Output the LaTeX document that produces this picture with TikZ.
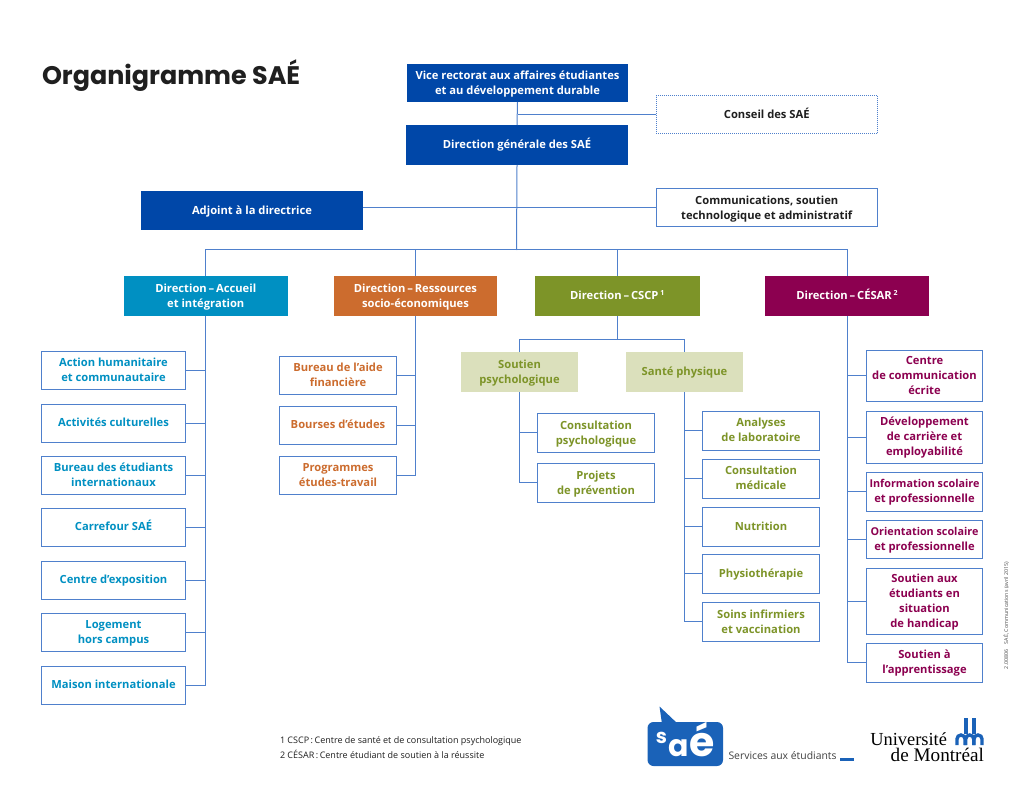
\documentclass[tikz,border=0pt]{standalone}
\usepackage{fontspec}
\setmainfont{Open Sans}
\newfontfamily\titlefont{Poppins}
\newfontfamily\logoserif{Liberation Serif}
\definecolor{navy}{HTML}{0047A8}
\definecolor{linkc}{HTML}{4F80CC}
\definecolor{cyanc}{HTML}{0090C2}
\definecolor{orangec}{HTML}{CC6C2E}
\definecolor{greenc}{HTML}{7D9428}
\definecolor{maroonc}{HTML}{8C0050}
\definecolor{paleg}{HTML}{DBE0BC}
\definecolor{inkc}{HTML}{1F1F1F}
\definecolor{logoc}{HTML}{1A62B8}
\tikzset{
  x=1pt,y=-1pt,
  boxbase/.style={rectangle,inner sep=0pt,outer sep=0pt,align=center,font=\fontsize{11.2}{15}\selectfont\bfseries},
  solidbox/.style={boxbase,fill=navy,text=white},
  whitebox/.style={boxbase,draw=linkc,line width=1pt,fill=white,text=inkc,xshift=-0.5pt},
  dotbox/.style={whitebox,densely dotted},
  dcyan/.style={boxbase,fill=cyanc,text=white},
  dorange/.style={boxbase,fill=orangec,text=white},
  dgreen/.style={boxbase,fill=greenc,text=white},
  dmaroon/.style={boxbase,fill=maroonc,text=white},
  palebox/.style={boxbase,fill=paleg,text=greenc},
  bcyan/.style={whitebox,text=cyanc},
  borange/.style={whitebox,text=orangec},
  bgreen/.style={whitebox,text=greenc},
  bmaroon/.style={whitebox,text=maroonc},
  link/.style={draw=linkc,line width=1pt},
  plain/.style={inner sep=0pt,outer sep=0pt},
}
\newcommand{\bx}[7]{\node[#6,minimum width={#4-#2},minimum height={#5-#3}] (#1) at ({(#2+#4)/2},{(#3+#5)/2}) {\rule{0pt}{11pt}#7\rule[-3.5pt]{0pt}{0pt}};}
\newcommand{\sups}[1]{\raisebox{0.35em}{\fontsize{7}{7}\selectfont #1}}
\begin{document}
\begin{tikzpicture}
\useasboundingbox (0,0) rectangle (1024,791);
\fill[white] (0,0) rectangle (1024,791);
\coordinate (J1) at (516.5,250);
\coordinate (cs1) at (519,339);
% boxes
\bx{vr}{407}{64}{628}{102}{solidbox}{Vice rectorat aux affaires étudiantes\\et au développement durable}
\bx{cons}{656.5}{96}{878}{134}{dotbox}{Conseil des SAÉ}
\bx{dg}{406}{125}{628}{165}{solidbox}{Direction générale des SAÉ}
\bx{adj}{141}{191}{363}{230}{solidbox}{Adjoint à la directrice}
\bx{comm}{656.5}{189}{878}{227}{whitebox}{Communications, soutien\\technologique et administratif}
\bx{d1}{124}{276}{287.5}{316}{dcyan}{Direction\,–\,Accueil\\et intégration}
\bx{d2}{334}{276}{497}{316}{dorange}{Direction\,–\,Ressources\\socio-économiques}
\bx{d3}{535}{276}{699.5}{316}{dgreen}{Direction\,–\,CSCP\,\sups{1}}
\bx{d4}{765}{276}{929}{316}{dmaroon}{Direction\,–\,CÉSAR\,\sups{2}}
% column 1
\bx{a1}{42}{351}{186}{389}{bcyan}{Action humanitaire\\et communautaire}
\bx{a2}{42}{404}{186}{442}{bcyan}{Activités culturelles}
\bx{a3}{42}{456}{186}{494}{bcyan}{Bureau des étudiants\\internationaux}
\bx{a4}{42}{508}{186}{546}{bcyan}{Carrefour SAÉ}
\bx{a5}{42}{561}{186}{599}{bcyan}{Centre d’exposition}
\bx{a6}{42}{613}{186}{651}{bcyan}{Logement\\hors campus}
\bx{a7}{42}{666}{186}{704}{bcyan}{Maison internationale}
% column 2
\bx{b1}{280}{356.5}{397}{394.5}{borange}{Bureau de l’aide\\financière}
\bx{b2}{280}{406}{397}{444}{borange}{Bourses d’études}
\bx{b3}{280}{456}{397}{494}{borange}{Programmes\\études-travail}
% CSCP
\bx{p1}{461}{352}{578}{392}{palebox}{Soutien\\psychologique}
\bx{p2}{626}{352}{743}{392}{palebox}{Santé physique}
\bx{c1}{538}{413.5}{655}{452}{bgreen}{Consultation\\psychologique}
\bx{c2}{538}{463.5}{655}{502}{bgreen}{Projets\\de prévention}
\bx{e1}{703}{411}{820}{450}{bgreen}{Analyses\\de laboratoire}
\bx{e2}{703}{459}{820}{498}{bgreen}{Consultation\\médicale}
\bx{e3}{703}{507}{820}{546}{bgreen}{Nutrition}
\bx{e4}{703}{554.5}{820}{593}{bgreen}{Physiothérapie}
\bx{e5}{703}{602.5}{820}{641}{bgreen}{Soins infirmiers\\et vaccination}
% CESAR
\bx{f1}{867}{350}{983}{401}{bmaroon}{Centre\\de communication\\écrite}
\bx{f2}{867}{411}{983}{463}{bmaroon}{Développement\\de carrière et\\employabilité}
\bx{f3}{867}{472}{983}{511}{bmaroon}{\fontsize{10.8}{15}\selectfont Information scolaire\\et professionnelle}
\bx{f4}{867}{520}{983}{558}{bmaroon}{\fontsize{10.8}{15}\selectfont Orientation scolaire\\et professionnelle}
\bx{f5}{867}{568}{983}{634}{bmaroon}{Soutien aux\\étudiants en\\situation\\de handicap}
\bx{f6}{867}{643}{983}{682}{bmaroon}{Soutien à\\l’apprentissage}
% top connectors
\draw[link] (vr.south) -- (dg.north);
\draw[link] (cons.west) -- (cons.west -| vr.south);
\draw[link] (dg.south) -- (J1);
\draw[link] (adj.east |- comm.west) -- (comm.west);
\draw[link] (d1.north) |- (J1);
\draw[link] (d4.north) |- (J1);
\draw[link] (d2.north) -- (d2.north |- J1);
\draw[link] (d3.north) -- (d3.north |- J1);
% column spines
\draw[link] (d1.south) -- (d1.south |- a7.east) -- (a7.east);
\foreach \n in {a1,a2,a3,a4,a5,a6}{\draw[link] (\n.east) -- (\n.east -| d1.south);}
\draw[link] (d2.south) -- (d2.south |- b3.east) -- (b3.east);
\foreach \n in {b1,b2}{\draw[link] (\n.east) -- (\n.east -| d2.south);}
\draw[link] (d3.south) -- (d3.south |- cs1);
\draw[link] (p1.north) -- (p1.north |- cs1) -- (p2.north |- cs1) -- (p2.north);
\draw[link] (p1.south) -- (p1.south |- c2.west) -- (c2.west);
\draw[link] (c1.west) -- (c1.west -| p1.south);
\draw[link] (p2.south) -- (p2.south |- e5.west) -- (e5.west);
\foreach \n in {e1,e2,e3,e4}{\draw[link] (\n.west) -- (\n.west -| p2.south);}
\draw[link] (d4.south) -- (d4.south |- f6.west) -- (f6.west);
\foreach \n in {f1,f2,f3,f4,f5}{\draw[link] (\n.west) -- (\n.west -| d4.south);}
% title
\node[plain,anchor=base west,font=\fontsize{25.4}{30}\titlefont\bfseries,text=inkc] (title) at (42,85) {Organigramme SAÉ};
% footnotes
\node[plain,anchor=base west,font=\fontsize{9}{11}\selectfont,text=inkc] (fn1) at (280,743.5) {1 CSCP\,:\,Centre de santé et de consultation psychologique};
\node[plain,anchor=base west,font=\fontsize{9}{11}\selectfont,text=inkc] (fn2) at (280,758) {2 CÉSAR\,:\,Centre étudiant de soutien à la réussite};
% side code
\node[plain,anchor=base west,rotate=90,font=\fontsize{5.3}{6}\selectfont,text=inkc!80] (code) at (1008,669) {2.00806\quad SAÉ, Communications (avril 2015)};
% saé logo
\fill[logoc,rounded corners=6pt] (647.5,722) rectangle (723,766);
\fill[logoc] (659.5,706.5) -- (662,724) -- (678,724) -- cycle;
\node[plain,anchor=base,text=white,font=\fontsize{20}{20}\titlefont\bfseries] (ls) at (661.5,743) {s};
\node[plain,anchor=base,text=white,font=\fontsize{30}{30}\titlefont\bfseries] (la) at (678.5,756) {a};
\node[plain,anchor=base,text=white,font=\fontsize{41}{41}\titlefont\bfseries] (le) at (702,756.5) {é};
\node[plain,anchor=base west,font=\fontsize{10.4}{11}\selectfont,text=inkc!85] (srv) at (728.5,759) {Services aux étudiants};
\fill[logoc] (840,758) rectangle (854,761);
% UdeM logo
\node[plain,anchor=south east,align=right,font=\fontsize{19.2}{16.5}\logoserif,text=black] (um) at (984,762) {{\fontsize{18.4}{16.5}\selectfont Université}\rule{37pt}{0pt}\\de Montréal};
\fill[logoc] (964,718) rectangle (967.5,734);
\fill[logoc] (972,718) rectangle (975.5,734);
\draw[logoc,line width=3.4pt] (957,745) -- (957,739) arc[start angle=180,end angle=0,x radius=4,y radius=-4] -- (965,745);
\draw[logoc,line width=3.4pt] (965.7,745) -- (965.7,739) arc[start angle=180,end angle=0,x radius=4,y radius=-4] -- (973.7,745);
\draw[logoc,line width=3.4pt] (974,745) -- (974,739) arc[start angle=180,end angle=0,x radius=4,y radius=-4] -- (982,745);
\end{tikzpicture}
\end{document}
